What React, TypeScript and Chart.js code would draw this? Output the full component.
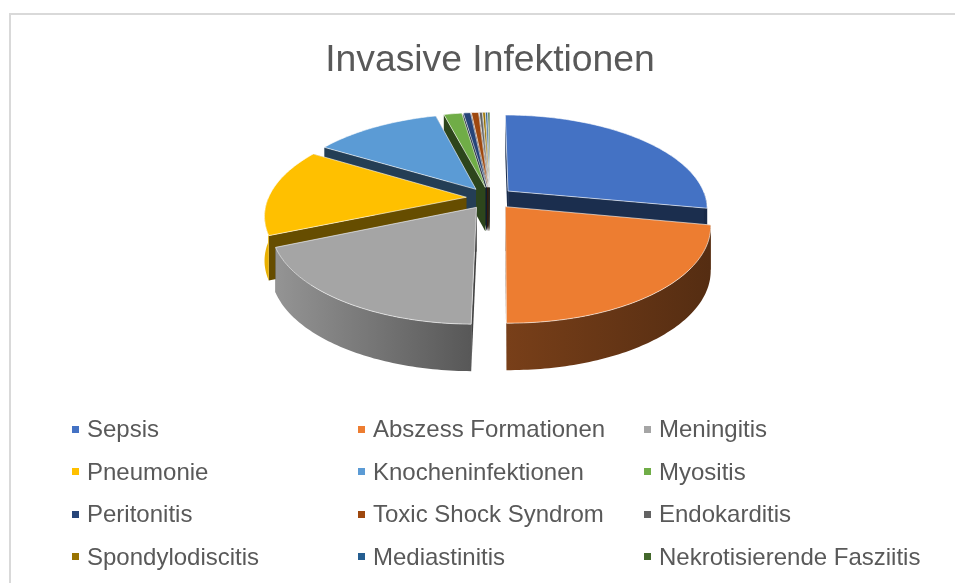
import React, { useEffect, useRef } from "react";
import { Chart, registerables } from "chart.js";

Chart.register(...registerables);

const categories = [
  "Sepsis",
  "Abszess Formationen",
  "Meningitis",
  "Pneumonie",
  "Knocheninfektionen",
  "Myositis",
  "Peritonitis",
  "Toxic Shock Syndrom",
  "Endokarditis",
  "Spondylodiscitis",
  "Mediastinitis",
  "Nekrotisierende Fasziitis",
];
const shares = [28, 22.2, 18.5, 15, 12.3, 1.75, 0.7, 0.7, 0.3, 0.25, 0.2, 0.2];
const colors = [
  "#4472C4", "#ED7D31", "#A5A5A5", "#FFC000", "#5B9BD5", "#70AD47",
  "#264478", "#9E480E", "#636363", "#997300", "#255E91", "#43682B",
];
const chartTitle = "Invasive Infektionen";

const hexRgb = (h: string) => [1, 3, 5].map((i) => parseInt(h.slice(i, i + 2), 16));
const shade = (h: string, f: number) => {
  const [r, g, b] = hexRgb(h);
  return `rgb(${Math.round(r * f)},${Math.round(g * f)},${Math.round(b * f)})`;
};

const view = { cx: 490, cy: 198, R: 198, K: 92, p: 0.18, e: 0.12, D: 44 };

const project = (u: number, v: number, z: number) => {
  const w = 1 / (1 - view.p * v);
  return [view.cx + view.R * u * w, view.cy + view.K * v * w + view.D * z * Math.pow(w, 0.3)];
};

const pie3d = {
  id: "pie3d",
  beforeDraw(chart: any) {
    const ctx = chart.ctx;
    ctx.save();
    ctx.fillStyle = "#ffffff";
    ctx.fillRect(0, 0, chart.width, chart.height);
    ctx.fillStyle = "#d9d9d9";
    ctx.fillRect(9, 13, chart.width - 9, 2);
    ctx.fillRect(9, 13, 2, chart.height - 13);
    ctx.restore();
  },
  beforeDatasetsDraw(chart: any) {
    const ctx = chart.ctx;
    const arcs = chart.getDatasetMeta(0).data;
    const slices = arcs.map((arc: any, i: number) => {
      const a0 = arc.startAngle + Math.PI / 2;
      const a1 = arc.endAngle + Math.PI / 2;
      const mid = (a0 + a1) / 2;
      return { i, a0, a1, u0: view.e * Math.sin(mid), v0: -view.e * Math.cos(mid), key: -Math.cos(mid) };
    });
    slices.sort((a: any, b: any) => a.key - b.key);

    const path = (pts: number[][]) => {
      ctx.beginPath();
      pts.forEach((p, n) => (n ? ctx.lineTo(p[0], p[1]) : ctx.moveTo(p[0], p[1])));
      ctx.closePath();
    };

    ctx.save();
    ctx.lineJoin = "round";
    for (const s of slices) {
      const color = colors[s.i];
      const n = Math.max(2, Math.ceil(((s.a1 - s.a0) * 180) / Math.PI));
      const rim: number[][] = [];
      const front: number[][] = [];
      for (let k = 0; k <= n; k++) {
        const t = s.a0 + ((s.a1 - s.a0) * k) / n;
        const q = [s.u0 + Math.sin(t), s.v0 - Math.cos(t)];
        rim.push(q);
        if (Math.cos(t) < 0) front.push(q);
      }
      const topAt = (q: number[]) => project(q[0], q[1], 0);
      const botAt = (q: number[]) => project(q[0], q[1], 1);
      const apex = [s.u0, s.v0];

      // radial walls
      ctx.fillStyle = shade(color, 0.4);
      for (const edge of [rim[0], rim[n]]) {
        path([topAt(apex), topAt(edge), botAt(edge), botAt(apex)]);
        ctx.fill();
      }

      // outer wall, only the part that faces the viewer
      if (front.length > 1) {
        const grad = ctx.createLinearGradient(263, 0, 710, 0);
        grad.addColorStop(0, shade(color, 0.92));
        grad.addColorStop(0.47, shade(color, 0.53));
        grad.addColorStop(1, shade(color, 0.36));
        ctx.fillStyle = grad;
        path([...front.map(topAt), ...front.slice().reverse().map(botAt)]);
        ctx.fill();
      }

      // top face
      path([topAt(apex), ...rim.map(topAt)]);
      ctx.fillStyle = color;
      ctx.fill();
      ctx.strokeStyle = "rgba(255,255,255,0.6)";
      ctx.lineWidth = 1;
      ctx.stroke();
    }
    ctx.restore();
    return false;
  },
  afterDraw(chart: any) {
    const ctx = chart.ctx;
    const colX = [72, 358, 644];
    const markerY = [426, 468, 511, 553];
    const textY = [437, 480, 522, 565];
    ctx.save();
    ctx.font = '24px "Liberation Sans", Arial, sans-serif';
    ctx.textBaseline = "alphabetic";
    ctx.textAlign = "left";
    (chart.data.labels as string[]).forEach((label, i) => {
      const x = colX[i % 3];
      const row = Math.floor(i / 3);
      ctx.fillStyle = colors[i];
      ctx.fillRect(x, markerY[row], 7, 7);
      ctx.fillStyle = "#595959";
      ctx.fillText(label, x + 15, textY[row]);
    });
    ctx.restore();
  },
};

export default function App() {
  const ref = useRef<HTMLCanvasElement>(null);
  useEffect(() => {
    document.body.style.margin = "0";
    const chart = new Chart(ref.current!, {
      type: "pie",
      data: {
        labels: categories,
        datasets: [{ data: shares, backgroundColor: colors, borderWidth: 0 }],
      },
      options: {
        responsive: false,
        animation: false,
        devicePixelRatio: 1,
        layout: { padding: { left: 25 } },
        plugins: {
          legend: { display: false },
          tooltip: { enabled: false },
          title: {
            display: true,
            text: chartTitle,
            color: "#595959",
            font: { family: '"Liberation Sans", Arial, sans-serif', size: 37.3, weight: "normal" },
            padding: { top: 38, bottom: 10 },
            align: "center",
            fullSize: false,
          },
        },
      },
      plugins: [pie3d],
    } as any);
    return () => chart.destroy();
  }, []);
  return (
    <div style={{ width: 955, height: 583, overflow: "hidden" }}>
      <canvas ref={ref} width={955} height={583} style={{ display: "block" }} />
    </div>
  );
}
